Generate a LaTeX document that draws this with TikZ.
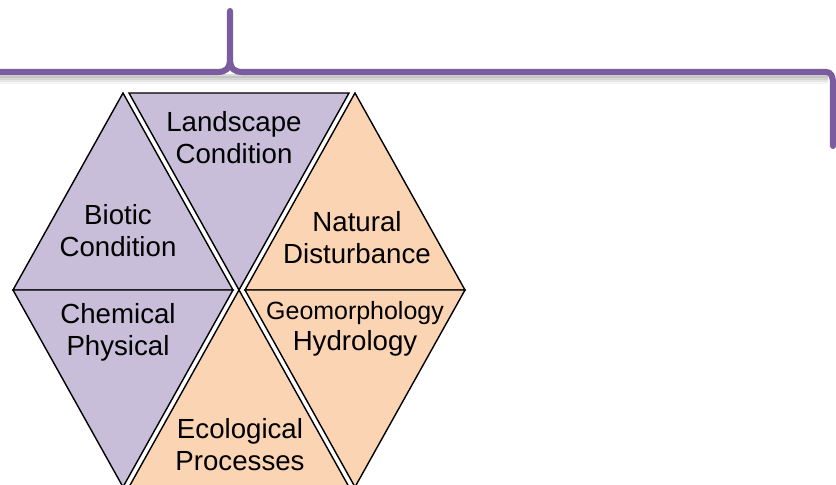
\documentclass[tikz,border=0pt]{standalone}
\usepackage{fontspec}
\setmainfont{Liberation Sans}
\definecolor{bracepurple}{HTML}{7B5C9E}
\definecolor{lilac}{HTML}{C8BEDA}
\definecolor{peach}{HTML}{FBD4B4}
\begin{document}
\begin{tikzpicture}[x=0.03cm,y=-0.03cm,
  tri/.style={draw=black,line width=1.2pt,line join=miter},
  lila/.style={tri,fill=lilac},
  orng/.style={tri,fill=peach},
  lbl/.style={align=center,inner sep=0pt,font=\fontsize{23.6}{27.3}\selectfont},
  bracepath/.style={line width=5.2pt,line cap=round,line join=round},
]
\useasboundingbox (0,0) rectangle (836,485);
\clip (0,0) rectangle (836,485);

% brace shadow
\foreach \o/\op in {4/0.30,6/0.22,8/0.14,10/0.08}{
  \draw[line width=3pt,gray,opacity=\op] (-10,72+\o) -- (828,72+\o);
}
% brace
\coordinate (bl) at (-10,72);
\coordinate (bt) at (230,11);
\coordinate (br) at (833,146);
\draw[bracepath,bracepurple] (bl) -- (217,72) .. controls (226,72) and (230,69) .. (230,58) -- (bt);
\draw[bracepath,bracepurple] (230,58) .. controls (230,69) and (234,72) .. (243,72) -- (826,72)
  .. controls (831,72) and (833,76) .. (833,84) -- (br);

% triangles (top row)
\draw[lila] (123,93) -- (233,290) -- (13,290) -- cycle;
\draw[lila] (129,93) -- (349,93) -- (239,290) -- cycle;
\draw[orng] (355,93) -- (465,290) -- (245,290) -- cycle;
% triangles (bottom row)
\draw[lila] (13,290) -- (233,290) -- (123,487) -- cycle;
\draw[orng] (239,290) -- (349,487) -- (129,487) -- cycle;
\draw[orng] (245,290) -- (465,290) -- (355,487) -- cycle;

% labels
\node[lbl] (land) at (234,138) {Landscape\\Condition};
\node[lbl] (biot) at (118,231) {Biotic\\Condition};
\node[lbl] (natu) at (357,238) {Natural\\Disturbance};
\node[lbl] (chem) at (118,332) {Chemical\\Physical};
\node[align=center,inner sep=0pt] (geom) at (355,329)
  {{\fontsize{21.3}{21.3}\selectfont Geomorphology}\\[4pt]{\fontsize{23.6}{27.3}\selectfont Hydrology}};
\node[lbl] (ecol) at (240,445) {Ecological\\Processes};
\end{tikzpicture}
\end{document}
